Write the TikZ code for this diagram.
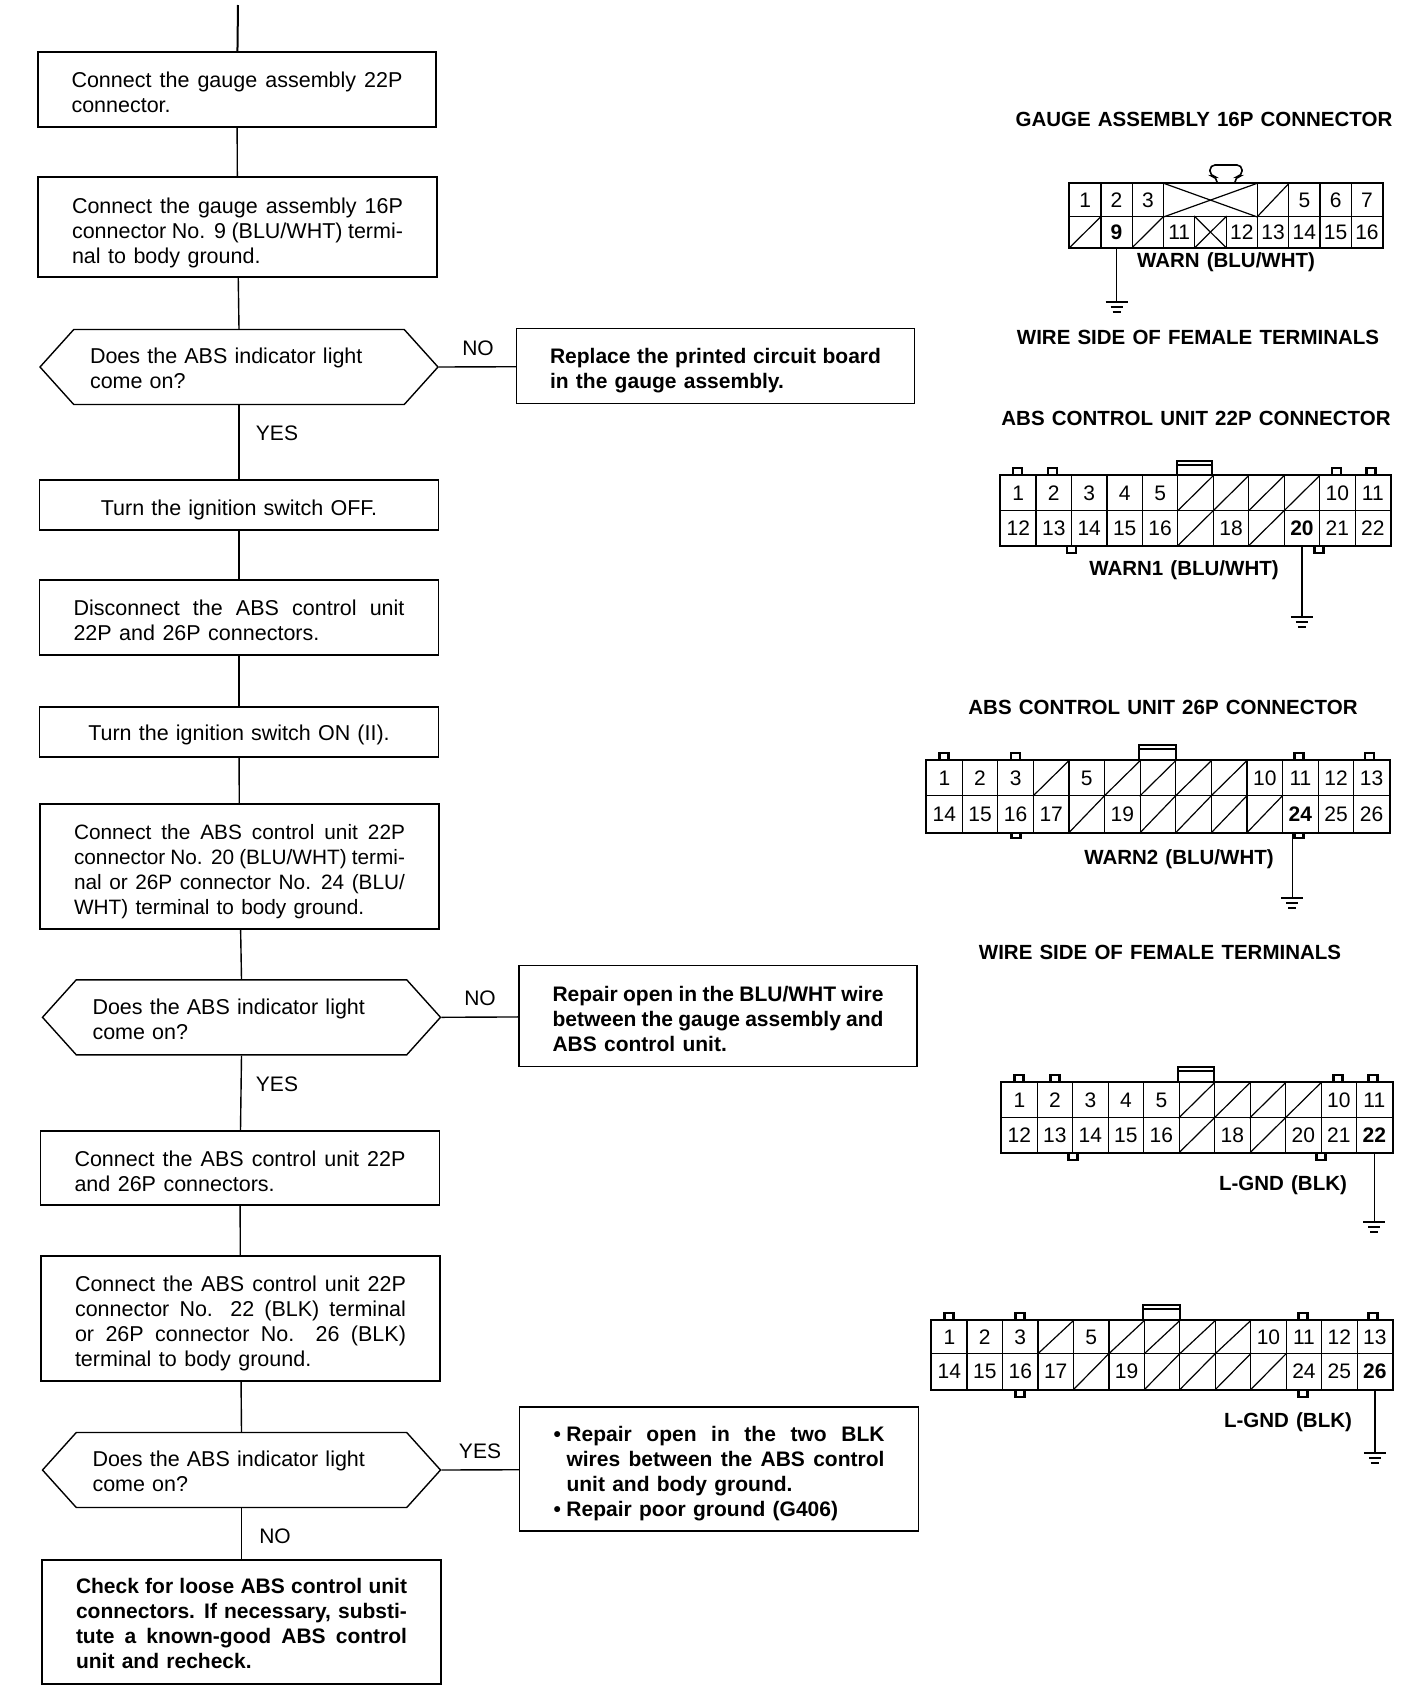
\documentclass[tikz,border=0pt]{standalone}
\usepackage{fontspec}
\setmainfont[WordSpace=1.25]{Liberation Sans}
\usetikzlibrary{shapes.symbols}
\tikzset{
  flowbox/.style={draw, line width=1.4pt, inner sep=0pt, minimum width=399pt, text width=331pt, align=justify, font=\fontsize{21.5}{25}\selectfont},
  flowbold/.style={flowbox, font=\fontsize{21}{25}\selectfont\bfseries},
  flowturn/.style={flowbox, align=center},
  flowask/.style={draw, line width=1.4pt, shape=signal, signal to=west and east, signal pointer angle=96, inner sep=0pt, minimum width=398pt, minimum height=75pt, text width=298pt, align=left, font=\fontsize{21.5}{25}\selectfont, textdrop=3},
  textdrop/.style={execute at begin node={\rule{0pt}{\dimexpr 16pt+#1pt\relax}}},
  flowline/.style={line width=1.4pt},
  flowword/.style={inner sep=0pt, font=\fontsize{21}{25}\selectfont},
  headword/.style={inner sep=0pt, font=\fontsize{20.5}{23}\selectfont\bfseries},
  pincell/.style={draw, line width=1.2pt, inner sep=0pt, anchor=north west, font=\fontsize{21}{22}\selectfont},
  pinedge/.style={line width=2.4pt},
  pinline/.style={line width=1.2pt},
}
% one row of cells: prefix, x, y, cell width, cell height, labels
\newcommand{\pinrow}[6]{
  \foreach \lab [count=\n from 0] in {#6}
    \node[pincell, minimum width=#4pt, minimum height=#5pt] (#1\n) at ({#2+\n*#4},#3) {\lab};
}
\newcommand{\pinslash}[1]{
  \foreach \cellname in {#1}
    \draw[pinline] (\cellname.south west) -- (\cellname.north east);
}
% small latch on the shell: x, y, height
\newcommand{\pintab}[3]{
  \draw[pinedge] (#1-4.5,#2) -- ++(0,#3) -- ++(9,0) -- ++(0,-#3);
}
\newcommand{\pinkey}[4]{
  \draw[pinedge] (#1,#4) -- (#1,#3) -- (#2,#3) -- (#2,#4);
  \draw[pinline] (#1,#3+4) -- (#2,#3+4);
}
% wire down to a ground sign: name, start point, y of the sign
\newcommand{\gndwire}[3]{
  \coordinate (#1) at (#2 |- 0,#3);
  \draw[line width=1.5pt] (#2) -- (#1);
  \draw[line width=1.5pt] ([xshift=-11pt]#1) -- ([xshift=11pt]#1);
  \draw[line width=1.3pt] ([xshift=-6pt,yshift=-5pt]#1) -- ([xshift=6pt,yshift=-5pt]#1);
  \draw[line width=1.3pt] ([xshift=-4pt,yshift=-10pt]#1) -- ([xshift=4pt,yshift=-10pt]#1);
}
\begin{document}
\begin{tikzpicture}[x=1pt,y=-1pt]
  \useasboundingbox (0,0) rectangle (1408,1690);

  % flow chart
  \coordinate (start) at (238,5);
  \node[flowbox, textdrop=5, minimum width=398pt, minimum height=75pt] (fit22) at (237,89.5) {Connect the gauge assembly 22P\linebreak connector.};
  \node[flowbox, textdrop=11, minimum width=399pt, minimum height=100pt] (jump16) at (237.5,227) {Connect the gauge assembly 16P\linebreak connector No. 9 (BLU/WHT) termi-\linebreak nal to body ground.};
  \node[flowask] (ask1) at (239,367) {Does the ABS indicator light\\come on?};
  \node[flowbold, textdrop=9, minimum width=398pt, minimum height=75pt] (fixboard) at (715.5,366) {Replace the printed circuit board\linebreak in the gauge assembly.};
  \node[flowturn, textdrop=8.5, minimum height=50pt] (ignoff) at (239,505) {Turn the ignition switch OFF.};
  \node[flowbox, textdrop=4.5, minimum height=75pt] (unplug) at (239,617.5) {Disconnect the ABS control unit\linebreak 22P and 26P connectors.};
  \node[flowturn, textdrop=5, minimum height=50pt] (ignon) at (239,732) {Turn the ignition switch ON (II).};
  \node[flowbox, textdrop=9, minimum height=125pt, font=\fontsize{20.8}{25}\selectfont] (jump20) at (239.5,866.5) {Connect the ABS control unit 22P\linebreak connector No. 20 (BLU/WHT) termi-\linebreak nal or 26P connector No. 24 (BLU/\linebreak WHT) terminal to body ground.};
  \node[flowask] (ask2) at (241.5,1017.3) {Does the ABS indicator light\\come on?};
  \node[flowbold, textdrop=4.5, minimum width=398pt, minimum height=101pt] (fixwire) at (718,1016) {Repair open in the BLU/WHT wire\linebreak between the gauge assembly and\linebreak ABS control unit.};
  \node[flowbox, textdrop=6.5, minimum height=74pt] (replug) at (240,1168) {Connect the ABS control unit 22P\linebreak and 26P connectors.};
  \node[flowbox, textdrop=9, minimum height=125pt] (jump22) at (240.5,1318.5) {Connect the ABS control unit 22P\linebreak connector No. 22 (BLK) terminal\linebreak or 26P connector No. 26 (BLK)\linebreak terminal to body ground.};
  \node[flowask] (ask3) at (241.5,1470) {Does the ABS indicator light\\come on?};
  \node[flowbold, textdrop=9, minimum width=399pt, minimum height=124pt] (fixgnd) at (719,1469) {\leftskip=13pt\hspace*{-13pt}\makebox[13pt][l]{•}Repair open in the two BLK\linebreak wires between the ABS control\linebreak unit and body ground.\par\hspace*{-13pt}\makebox[13pt][l]{•}Repair poor ground (G406)\par};
  \node[flowbold, textdrop=2, minimum height=124pt] (swap) at (241.5,1622) {Check for loose ABS control unit\linebreak connectors. If necessary, substi-\linebreak tute a known-good ABS control\linebreak unit and recheck.};

  \draw[flowline, line width=2pt] (start) -- (fit22);
  \draw[flowline] (fit22) -- (jump16);
  \draw[flowline] (jump16) -- (ask1.north);
  \draw[flowline] (ask1.south) -- (ignoff);
  \draw[flowline] (ask1.east) -- (fixboard);
  \draw[flowline] (ignoff) -- (unplug);
  \draw[flowline] (unplug) -- (ignon);
  \draw[flowline] (ignon) -- (jump20);
  \draw[flowline] (jump20) -- (ask2.north);
  \draw[flowline] (ask2.south) -- (replug);
  \draw[flowline] (ask2.east) -- (fixwire);
  \draw[flowline] (replug) -- (jump22);
  \draw[flowline] (jump22) -- (ask3.north);
  \draw[flowline] (ask3.south) -- (swap);
  \draw[flowline] (ask3.east) -- (fixgnd);

  \node[flowword] (no1) at (478,348) {NO};
  \node[flowword] (yes1) at (277,433) {YES};
  \node[flowword] (no2) at (480,998) {NO};
  \node[flowword] (yes2) at (277,1084) {YES};
  \node[flowword] (yes3) at (480,1451) {YES};
  \node[flowword] (no3) at (275,1536) {NO};

  % gauge assembly 16P
  \node[headword] (headgauge) at (1204,119) {GAUGE ASSEMBLY 16P CONNECTOR};
  \draw[pinline, line width=1.6pt, rounded corners=5pt] (1217,183) -- (1217,177) -- (1210,176) -- (1210,165) -- (1242,165) -- (1242,176) -- (1235,177) -- (1235,183);
  \pinrow{ga}{1069}{183}{31.3}{33}{1,2,3}
  \pinrow{gb}{1162.9}{183}{93.9}{33}{{}}
  \pinrow{gc}{1256.8}{183}{31.3}{33}{{},5,6,7}
  \pinrow{gd}{1069}{216}{31.3}{31}{{},\textbf{9},{},11,{},12,13,14,15,16}
  \pinslash{gc0,gd0,gd2,gd4}
  \draw[pinline] (gb0.north west) -- (gb0.south east);
  \draw[pinline] (gb0.south west) -- (gb0.north east);
  \draw[pinline] (gd4.north west) -- (gd4.south east);
  \draw[pinedge] (ga0.north west) rectangle (gd9.south east);
  \gndwire{gndgauge}{gd1.south}{302}
  \node[headword] (warngauge) at (1226,262) {WARN (BLU/WHT)};
  \node[headword] (sidegauge) at (1198,337) {WIRE SIDE OF FEMALE TERMINALS};

  % control unit 22P, warning wire
  \node[headword] (headwarna) at (1196,418) {ABS CONTROL UNIT 22P CONNECTOR};
  \pinrow{wa}{1000}{475}{35.45}{35}{1,2,3,4,5,{},{},{},{},10,11}
  \pinrow{wb}{1000}{510}{35.45}{35}{12,13,14,15,16,{},18,{},\textbf{20},21,22}
  \pinslash{wa5,wa6,wa7,wa8,wb5,wb7}
  \draw[pinedge] (wa0.north west) rectangle (wb10.south east);
  \foreach \tabx in {1017.5,1052.5,1336.5,1371} {\pintab{\tabx}{475}{-7}}
  \foreach \tabx in {1071.5,1319} {\pintab{\tabx}{545}{8}}
  \pinkey{1177}{1212}{461}{475}
  \gndwire{gndwarna}{wb8.south}{617}
  \node[headword] (labelwarna) at (1184,570) {WARN1 (BLU/WHT)};

  % control unit 26P, warning wire
  \node[headword] (headwarnb) at (1163,707) {ABS CONTROL UNIT 26P CONNECTOR};
  \pinrow{xa}{926}{760}{35.6}{35}{1,2,3,{},5,{},{},{},{},10,11,12,13}
  \pinrow{xb}{926}{795}{35.6}{37}{14,15,16,17,{},19,{},{},{},{},\textbf{24},25,26}
  \pinslash{xa3,xa5,xa6,xa7,xa8,xb4,xb6,xb7,xb8,xb9}
  \draw[pinedge] (xa0.north west) rectangle (xb12.south east);
  \foreach \tabx in {944,1015.5,1299,1369.5} {\pintab{\tabx}{760}{-7}}
  \foreach \tabx in {1016,1299} {\pintab{\tabx}{832}{6}}
  \pinkey{1139}{1176}{745}{760}
  \gndwire{gndwarnb}{[xshift=-8pt]xb10.south}{898}
  \node[headword] (labelwarnb) at (1179,859) {WARN2 (BLU/WHT)};
  \node[headword] (sideunit) at (1160,952) {WIRE SIDE OF FEMALE TERMINALS};

  % control unit 22P, ground wire
  \pinrow{la}{1001}{1082}{35.5}{35}{1,2,3,4,5,{},{},{},{},10,11}
  \pinrow{lb}{1001}{1117}{35.5}{35}{12,13,14,15,16,{},18,{},20,21,\textbf{22}}
  \pinslash{la5,la6,la7,la8,lb5,lb7}
  \draw[pinedge] (la0.north west) rectangle (lb10.south east);
  \foreach \tabx in {1019,1055,1338,1373} {\pintab{\tabx}{1082}{-7}}
  \foreach \tabx in {1073,1321} {\pintab{\tabx}{1152}{8}}
  \pinkey{1178}{1214}{1067}{1082}
  \gndwire{gndla}{lb10.south}{1222}
  \node[headword] (labella) at (1283,1185) {L-GND (BLK)};

  % control unit 26P, ground wire
  \pinrow{ma}{931}{1320}{35.46}{33}{1,2,3,{},5,{},{},{},{},10,11,12,13}
  \pinrow{mb}{931}{1353}{35.46}{36}{14,15,16,17,{},19,{},{},{},{},24,25,\textbf{26}}
  \pinslash{ma3,ma5,ma6,ma7,ma8,mb4,mb6,mb7,mb8,mb9}
  \draw[pinedge] (ma0.north west) rectangle (mb12.south east);
  \foreach \tabx in {949,1020,1303,1373} {\pintab{\tabx}{1320}{-7}}
  \foreach \tabx in {1020,1303} {\pintab{\tabx}{1389}{8}}
  \pinkey{1143}{1180}{1305}{1320}
  \gndwire{gndma}{mb12.south}{1453}
  \node[headword] (labelma) at (1288,1422) {L-GND (BLK)};
\end{tikzpicture}
\end{document}
